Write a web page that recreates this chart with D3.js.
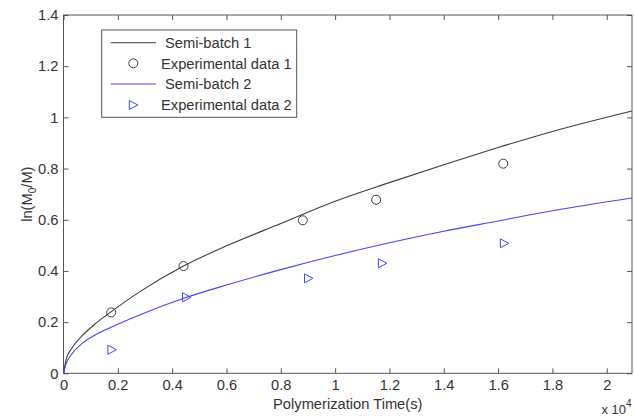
<!DOCTYPE html>
<html>
<head>
<meta charset="utf-8">
<script src="https://cdn.jsdelivr.net/npm/d3@7"></script>
<style>
  html, body { margin: 0; padding: 0; background: #fff; }
  svg { display: block; font-family: "Liberation Sans", Arial, sans-serif; }
</style>
</head>
<body>
<svg id="chart" width="634" height="416"></svg>
<script>
// ---- Data (time in seconds) ----
const curve1Time = [0, 100, 300, 700, 1200, 1750, 2800, 4400, 6000, 8000, 10000, 12000, 14000, 16000, 18000, 20930];
const curve1Val  = [0, 0.055, 0.097, 0.148, 0.196, 0.240, 0.318, 0.418, 0.498, 0.585, 0.672, 0.745, 0.815, 0.882, 0.945, 1.025];
const curve2Time = [0, 100, 300, 700, 1200, 1750, 2800, 4400, 6000, 8000, 10000, 12000, 14000, 16000, 18000, 20930];
const curve2Val  = [0, 0.038, 0.075, 0.118, 0.152, 0.180, 0.228, 0.292, 0.345, 0.405, 0.460, 0.510, 0.555, 0.595, 0.635, 0.685];
const exp1Time = [1756, 4418, 8810, 11510, 16190];
const exp1Val  = [0.238, 0.419, 0.598, 0.678, 0.819];
const exp2Time = [1780, 4530, 9020, 11740, 16230];
const exp2Val  = [0.092, 0.297, 0.371, 0.430, 0.508];
const xTicks = [0, 2000, 4000, 6000, 8000, 10000, 12000, 14000, 16000, 18000, 20000];
const yTicks = [0, 0.2, 0.4, 0.6, 0.8, 1.0, 1.2, 1.4];
const legendLabels = ["Semi-batch 1", "Experimental data 1", "Semi-batch 2", "Experimental data 2"];
const xLabel = "Polymerization Time(s)";

// ---- Layout ----
const svg = d3.select("#chart");
const L = 63.5, R = 632, T = 15, B = 373.3;
const x = d3.scaleLinear().domain([0, 20930]).range([L, R]);
const y = d3.scaleLinear().domain([0, 1.4]).range([B, T]);
const axisColor = "#555";
const textColor = "#333";
const c1 = "#3c3c3c", c2 = "#4545ee";
const fs = "14.7px";

// box
svg.append("rect").attr("x", L).attr("y", T).attr("width", R - L).attr("height", B - T)
  .attr("fill", "#fff").attr("stroke", axisColor).attr("stroke-width", 1);

const fmtX = d => d3.format("~g")(d / 10000);
const fmtY = d => d3.format("~g")(d);

const gx = svg.append("g").attr("transform", `translate(0,${B})`)
  .call(d3.axisBottom(x).tickValues(xTicks).tickSize(-5).tickPadding(6).tickFormat(fmtX));
const gxt = svg.append("g").attr("transform", `translate(0,${T})`)
  .call(d3.axisTop(x).tickValues(xTicks).tickSize(-5).tickFormat(""));
const gy = svg.append("g").attr("transform", `translate(${L},0)`)
  .call(d3.axisLeft(y).tickValues(yTicks).tickSize(-5).tickPadding(5).tickFormat(fmtY));
const gyr = svg.append("g").attr("transform", `translate(${R},0)`)
  .call(d3.axisRight(y).tickValues(yTicks).tickSize(-5).tickFormat(""));
[gx, gxt, gy, gyr].forEach(g => {
  g.select(".domain").remove();
  g.selectAll(".tick line").attr("stroke", axisColor);
  g.selectAll("text").attr("fill", textColor).style("font-size", fs)
    .style("font-family", '"Liberation Sans", Arial, sans-serif');
});

// axis labels
svg.append("text").attr("x", (L + R) / 2).attr("y", 409).attr("text-anchor", "middle")
  .attr("fill", textColor).style("font-size", fs).text(xLabel);
const ex = svg.append("text").attr("x", 601.5).attr("y", 414).attr("fill", textColor).style("font-size", "13px");
ex.append("tspan").text("x 10");
ex.append("tspan").attr("dy", -7).style("font-size", "10px").text("4");

const yl = svg.append("text").attr("transform", `translate(32,${(T + B) / 2}) rotate(-90)`)
  .attr("text-anchor", "middle").attr("fill", textColor).style("font-size", fs);
yl.append("tspan").text("ln(M");
yl.append("tspan").attr("dy", 4).style("font-size", "10px").text("0");
yl.append("tspan").attr("dy", -4).text("/M)");

// curves
const line = d3.line().x(d => x(d[0])).y(d => y(d[1])).curve(d3.curveMonotoneX);
svg.append("path").datum(d3.zip(curve1Time, curve1Val)).attr("d", line)
  .attr("fill", "none").attr("stroke", c1).attr("stroke-width", 1.1);
svg.append("path").datum(d3.zip(curve2Time, curve2Val)).attr("d", line)
  .attr("fill", "none").attr("stroke", c2).attr("stroke-width", 1.1);

// markers
const triPath = "M-4,-4.5L-4,4.5L4.5,0Z";
svg.append("g").selectAll("circle").data(d3.zip(exp1Time, exp1Val)).join("circle")
  .attr("cx", d => x(d[0])).attr("cy", d => y(d[1])).attr("r", 4.5)
  .attr("fill", "none").attr("stroke", c1).attr("stroke-width", 1);
svg.append("g").selectAll("path").data(d3.zip(exp2Time, exp2Val)).join("path")
  .attr("transform", d => `translate(${x(d[0])},${y(d[1])})`).attr("d", triPath)
  .attr("fill", "none").attr("stroke", c2).attr("stroke-width", 1);

// legend
const lg = svg.append("g");
lg.append("rect").attr("x", 101.7).attr("y", 30).attr("width", 195).attr("height", 87.3)
  .attr("fill", "#fff").attr("stroke", axisColor).attr("stroke-width", 1);
const rowsY = [42.7, 63.3, 84, 105];
const textX = [165, 161, 165, 161];
legendLabels.forEach((lab, i) => {
  const yy = rowsY[i];
  if (i === 0 || i === 2) {
    lg.append("line").attr("x1", 110.7).attr("x2", 156).attr("y1", yy).attr("y2", yy)
      .attr("stroke", i === 0 ? c1 : c2).attr("stroke-width", 1.1);
  } else if (i === 1) {
    lg.append("circle").attr("cx", 133.3).attr("cy", yy).attr("r", 4.5)
      .attr("fill", "none").attr("stroke", c1);
  } else {
    lg.append("path").attr("transform", `translate(133.3,${yy})`).attr("d", triPath)
      .attr("fill", "none").attr("stroke", c2);
  }
  lg.append("text").attr("x", textX[i]).attr("y", yy).attr("dy", "0.36em")
    .attr("fill", textColor).style("font-size", fs).text(lab);
});
</script>
</body>
</html>
